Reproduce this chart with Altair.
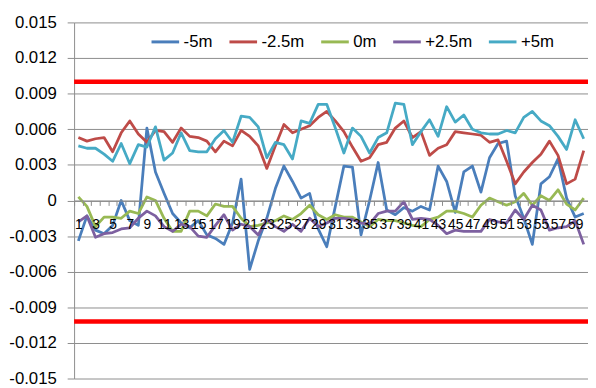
import altair as alt
import pandas as pd

categories = list(range(1, 61))
series_names = ["-5m", "-2.5m", "0m", "+2.5m", "+5m"]
colors = ["#4A7EBB", "#BE4B48", "#98B954", "#7D60A0", "#46AAC5"]

s_minus5 = [-0.0034, -0.0013, -0.0025, -0.0028, -0.0021, 0.0000, -0.0017, -0.0021, 0.0061, 0.0024,
            0.0006, -0.0011, -0.0019, -0.0023, -0.0017, -0.0029, -0.0032, -0.0037, -0.0019, 0.0018,
            -0.0058, -0.0034, -0.0015, 0.0010, 0.0029, 0.0016, 0.0002, 0.0006, -0.0024, -0.0039,
            -0.0005, 0.0029, 0.0028, -0.0029, 0.0000, 0.0032, -0.0008, -0.0012, -0.0006, -0.0009,
            -0.0005, -0.0008, 0.0029, 0.0016, -0.0010, 0.0024, 0.0029, 0.0007, 0.0036, 0.0048,
            0.0050, 0.0004, -0.0015, -0.0037, 0.0014, 0.0020, 0.0035, 0.0002, -0.0014, -0.0011]
s_minus25 = [0.0053, 0.0050, 0.0052, 0.0053, 0.0041, 0.0057, 0.0067, 0.0056, 0.0049, 0.0059,
             0.0058, 0.0049, 0.0061, 0.0054, 0.0053, 0.0050, 0.0041, 0.0050, 0.0046, 0.0059,
             0.0054, 0.0046, 0.0027, 0.0046, 0.0064, 0.0057, 0.0060, 0.0063, 0.0070, 0.0075,
             0.0067, 0.0058, 0.0045, 0.0033, 0.0036, 0.0047, 0.0049, 0.0061, 0.0067, 0.0053,
             0.0058, 0.0038, 0.0044, 0.0047, 0.0058, 0.0057, 0.0056, 0.0055, 0.0049, 0.0051,
             0.0033, 0.0014, 0.0024, 0.0032, 0.0039, 0.0050, 0.0038, 0.0014, 0.0018, 0.0042]
s_zero = [0.0003, -0.0005, -0.0022, -0.0014, -0.0014, -0.0015, -0.0009, -0.0011, 0.0003, 0.0000,
          -0.0015, -0.0026, -0.0026, -0.0009, -0.0009, -0.0013, -0.0003, -0.0005, -0.0005, -0.0015,
          -0.0022, -0.0021, -0.0019, -0.0017, -0.0013, -0.0016, -0.0011, -0.0004, -0.0012, -0.0016,
          -0.0012, -0.0014, -0.0014, -0.0018, -0.0022, -0.0016, -0.0017, -0.0017, -0.0019, -0.0021,
          -0.0022, -0.0016, -0.0014, -0.0009, -0.0009, -0.0011, -0.0014, -0.0004, 0.0002, -0.0001,
          -0.0004, -0.0001, 0.0006, -0.0004, 0.0004, 0.0000, 0.0009, -0.0003, -0.0008, 0.0002]
s_plus25 = [-0.0018, -0.0013, -0.0031, -0.0028, -0.0027, -0.0024, -0.0023, -0.0015, -0.0009, -0.0013,
            -0.0022, -0.0026, -0.0020, -0.0022, -0.0030, -0.0031, -0.0021, -0.0012, -0.0025, -0.0020,
            -0.0022, -0.0029, -0.0016, -0.0022, -0.0026, -0.0020, -0.0026, -0.0015, -0.0022, -0.0019,
            -0.0015, -0.0015, -0.0016, -0.0019, -0.0020, -0.0011, -0.0009, -0.0009, -0.0001, -0.0016,
            -0.0015, -0.0016, -0.0021, -0.0028, -0.0025, -0.0026, -0.0026, -0.0026, -0.0016, -0.0018,
            -0.0019, -0.0008, -0.0016, -0.0004, -0.0008, -0.0025, -0.0023, -0.0022, -0.0017, -0.0037]
s_plus5 = [0.0046, 0.0044, 0.0044, 0.0039, 0.0033, 0.0048, 0.0031, 0.0047, 0.0045, 0.0062,
           0.0034, 0.0040, 0.0057, 0.0042, 0.0041, 0.0041, 0.0052, 0.0059, 0.0049, 0.0071,
           0.0070, 0.0062, 0.0036, 0.0049, 0.0047, 0.0035, 0.0067, 0.0065, 0.0081, 0.0081,
           0.0061, 0.0040, 0.0061, 0.0054, 0.0040, 0.0053, 0.0057, 0.0082, 0.0081, 0.0047,
           0.0058, 0.0068, 0.0054, 0.0079, 0.0066, 0.0072, 0.0060, 0.0057, 0.0056, 0.0056,
           0.0059, 0.0057, 0.0070, 0.0075, 0.0067, 0.0063, 0.0054, 0.0043, 0.0068, 0.0052]

limit_values = [0.010, -0.0102]
y_ticks = [-0.015, -0.012, -0.009, -0.006, -0.003, 0.0, 0.003, 0.006, 0.009, 0.012, 0.015]

all_series = [s_minus5, s_minus25, s_zero, s_plus25, s_plus5]
rows = []
for k, (name, vals) in enumerate(zip(series_names, all_series)):
    for c, v in zip(categories, vals):
        rows.append({"cat": c, "series": name, "value": v, "k": k})
df = pd.DataFrame(rows)
limits_df = pd.DataFrame({"limit": limit_values})

W, H = 521, 361
FONT = "Liberation Sans"
GRID = "#8c8c8c"

x_scale = alt.Scale(type="band", domain=categories, paddingInner=0, paddingOuter=0)
y_scale = alt.Scale(domain=[y_ticks[0], y_ticks[-1]], nice=False, zero=False)

x_axis = alt.Axis(
    labelExpr="datum.value % 2 == 1 ? datum.label : ''",
    labelAngle=0,
    labelFont=FONT, labelFontSize=14, labelColor="#000000",
    labelOverlap=False, labelBound=False, labelFlush=False,
    labelPadding=12, tickSize=5, tickColor=GRID, tickBand="extent",
    domainColor=GRID, grid=False, title=None, offset=-H / 2, zindex=1,
)
y_axis = alt.Axis(
    values=y_ticks,
    labelExpr="datum.value == 0 ? '0' : (datum.value < 0 ? '-' : '') + format(abs(datum.value), '.3f')",
    labelFont=FONT, labelFontSize=17, labelColor="#000000", labelPadding=11,
    tickSize=7, tickColor=GRID, domainColor=GRID,
    grid=True, gridColor=GRID, gridWidth=1, title=None,
)

lines = alt.Chart(df).mark_line(strokeWidth=2.8, strokeJoin="round").encode(
    x=alt.X("cat:O", scale=x_scale, axis=x_axis, bandPosition=0.5),
    y=alt.Y("value:Q", scale=y_scale, axis=y_axis),
    color=alt.Color(
        "series:N",
        scale=alt.Scale(domain=series_names, range=colors),
        sort=series_names,
        legend=alt.Legend(
            title=None, orient="none", legendX=77, legendY=4,
            direction="horizontal", symbolType="stroke", symbolSize=784,
            symbolStrokeWidth=3, labelFont=FONT, labelFontSize=17,
            labelColor="#000000", labelOffset=3, columnPadding=10, padding=0,
        ),
    ),
    detail="k:O",
)

limits = alt.Chart(limits_df).mark_rule(color="#FF0000", strokeWidth=4.5).encode(
    y=alt.Y("limit:Q", scale=y_scale, axis=y_axis)
)

chart = (
    alt.layer(limits, lines)
    .properties(
        width=W, height=H, autosize="none",
        padding={"left": 67, "top": 12, "right": 0, "bottom": 8},
        background="white",
    )
    .configure_view(strokeWidth=0)
)

chart.save("out.html", embed_options={"renderer": "svg", "actions": False})
